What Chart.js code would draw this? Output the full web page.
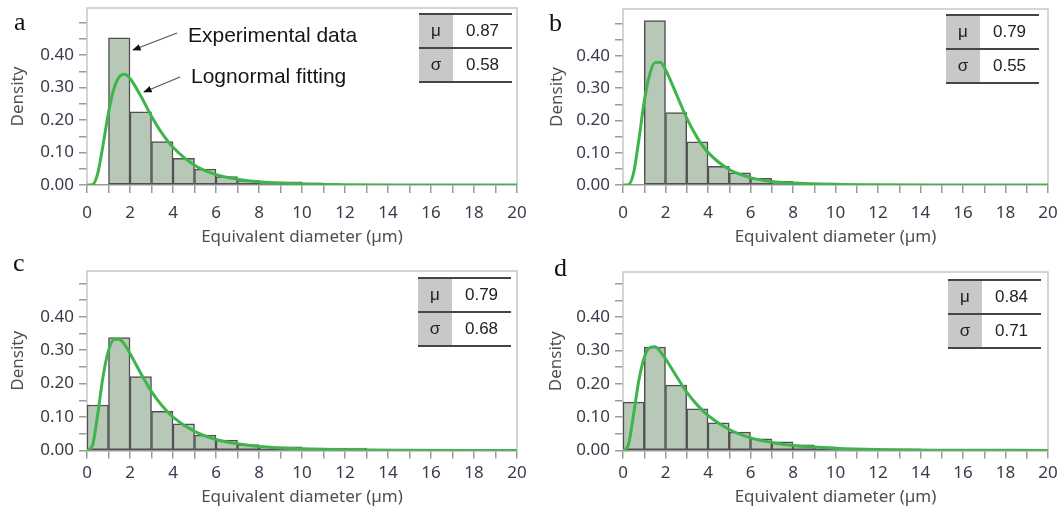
<!DOCTYPE html>
<html>
<head>
<meta charset="utf-8">
<script src="https://cdn.jsdelivr.net/npm/chart.js@4.4.1/dist/chart.umd.min.js"></script>
<style>
    body { margin: 0; background: #fff; }
    #page { position: relative; width: 1060px; height: 515px; overflow: hidden; }
    canvas { position: absolute; }
    .tag { position: absolute; font-family: 'Liberation Serif', serif; font-size: 26px; line-height: 26px; color: #111; }
    .note { position: absolute; font-family: 'Liberation Sans', Arial, sans-serif; font-size: 21px; line-height: 20px; color: #151515; white-space: nowrap; }
    .stats { position: absolute; width: 93px; border-top: 2px solid #454545; font-family: 'Liberation Sans', Arial, sans-serif; font-size: 17px; color: #222; }
    .stats .row { display: flex; height: 32px; border-bottom: 2px solid #454545; }
    .stats .k { width: 34px; background: #c8c8c8; text-align: center; line-height: 32px; }
    .stats .v { flex: 1; text-align: center; line-height: 32px; }
    svg { position: absolute; left: 0; top: 0; }
</style>
</head>
<body>
<div id="page">
    <canvas id="chartA" width="530" height="250" style="left:0;top:0"></canvas>
    <canvas id="chartB" width="530" height="250" style="left:530px;top:0"></canvas>
    <canvas id="chartC" width="530" height="265" style="left:0;top:250px"></canvas>
    <canvas id="chartD" width="530" height="265" style="left:530px;top:250px"></canvas>

    <div class="tag" style="left:14px;top:9px">a</div>
    <div class="tag" style="left:549px;top:10px">b</div>
    <div class="tag" style="left:13px;top:250px">c</div>
    <div class="tag" style="left:554px;top:255px">d</div>

    <div class="note" style="left:188px;top:25px">Experimental data</div>
    <div class="note" style="left:191px;top:66px">Lognormal fitting</div>
    <svg width="1060" height="515">
        <defs>
            <marker id="head" viewBox="0 0 10 10" refX="9" refY="5" markerWidth="7" markerHeight="7" orient="auto">
                <path d="M0,1 L10,5 L0,9 z" fill="#111"></path>
            </marker>
        </defs>
        <line x1="177" y1="33" x2="133" y2="50" stroke="#555" stroke-width="1.2" marker-end="url(#head)"></line>
        <line x1="180" y1="77" x2="144" y2="92" stroke="#555" stroke-width="1.2" marker-end="url(#head)"></line>
    </svg>

    <div id="statsA" class="stats" style="left:419px;top:13px"></div>
    <div id="statsB" class="stats" style="left:946px;top:14px"></div>
    <div id="statsC" class="stats" style="left:418px;top:277px"></div>
    <div id="statsD" class="stats" style="left:948px;top:279px"></div>
</div>

<script>
// Data
const xTickLabels = ['0', '2', '4', '6', '8', '10', '12', '14', '16', '18', '20'];
const yTickLabels = ['0.00', '0.10', '0.20', '0.30', '0.40'];

const binStartsA = [1, 2, 3, 4, 5, 6, 7, 8, 9, 10];
const densityA = [0.453, 0.225, 0.134, 0.082, 0.049, 0.026, 0.014, 0.010, 0.010, 0.007];

const binStartsB = [1, 2, 3, 4, 5, 6, 7, 8, 9];
const densityB = [0.509, 0.224, 0.134, 0.058, 0.038, 0.021, 0.011, 0.006, 0.006];

const binStartsC = [0, 1, 2, 3, 4, 5, 6, 7, 8, 9, 10, 11, 12];
const densityC = [0.136, 0.338, 0.221, 0.117, 0.080, 0.046, 0.031, 0.018, 0.011, 0.011, 0.007, 0.007, 0.007];

const binStartsD = [0, 1, 2, 3, 4, 5, 6, 7, 8, 9, 10, 11, 12, 13];
const densityD = [0.145, 0.310, 0.196, 0.125, 0.083, 0.055, 0.035, 0.026, 0.017, 0.011, 0.006, 0.005, 0.005, 0.005];

const fitX = [0, 0.25, 0.5, 0.75, 1, 1.25, 1.5, 1.75, 2, 2.5, 3, 3.5, 4, 5, 6, 7, 8, 10, 12, 15, 20];
const fitA = [0, 0.001, 0.036, 0.125, 0.223, 0.296, 0.333, 0.341, 0.328, 0.274, 0.212, 0.158, 0.116, 0.061, 0.032, 0.018, 0.010, 0.003, 0.001, 0.0003, 0];
const fitB = [0, 0.001, 0.038, 0.142, 0.259, 0.341, 0.379, 0.380, 0.357, 0.283, 0.207, 0.146, 0.101, 0.048, 0.023, 0.011, 0.006, 0.002, 0.0005, 0.0001, 0];
const fitC = [0, 0.014, 0.109, 0.223, 0.299, 0.332, 0.333, 0.317, 0.290, 0.231, 0.176, 0.133, 0.100, 0.057, 0.033, 0.020, 0.012, 0.005, 0.002, 0.0007, 0.0002];
const fitD = [0, 0.017, 0.109, 0.212, 0.279, 0.308, 0.311, 0.297, 0.275, 0.224, 0.175, 0.136, 0.105, 0.063, 0.038, 0.024, 0.015, 0.007, 0.003, 0.001, 0.0003];

const statLabels = ['μ', 'σ'];
const statsA = ['0.87', '0.58'];
const statsB = ['0.79', '0.55'];
const statsC = ['0.79', '0.68'];
const statsD = ['0.84', '0.71'];

const FONT = "'Noto Sans', 'Open Sans', sans-serif";
const TICK_COLOR = '#3a3a4a';
const AXIS_COLOR = '#9a9a9a';

// light grey box round the plot area (top, left, right)
const framePlugin = {
    id: 'frame',
    beforeDatasetsDraw(chart) {
        const { ctx, chartArea: { left, top, right, bottom } } = chart;
        ctx.save();
        ctx.strokeStyle = '#c6c6c6';
        ctx.lineWidth = 1.5;
        ctx.beginPath();
        ctx.moveTo(left, bottom);
        ctx.lineTo(left, top);
        ctx.lineTo(right, top);
        ctx.lineTo(right, bottom);
        ctx.stroke();
        ctx.restore();
    },
};

const fillStats = (id, values) => {
    const box = document.getElementById(id);
    box.innerHTML = statLabels
        .map((label, i) => `<div class="row"><div class="k">${label}</div><div class="v">${values[i]}</div></div>`)
        .join('');
};

const buildPanel = (id, geo, binStarts, density, fit) => {
    const bars = binStarts.map((start, i) => ({ x: start + 0.5, y: density[i] }));
    const curve = fitX.map((x, i) => ({ x, y: fit[i] }));

    // eslint-disable-next-line no-new
    new Chart(document.getElementById(id), {
        type: 'bar',
        data: {
            datasets: [
                {
                    type: 'line',
                    data: curve,
                    borderColor: '#3db54a',
                    borderWidth: 3,
                    pointRadius: 0,
                    cubicInterpolationMode: 'monotone',
                    fill: false,
                    order: 1,
                },
                {
                    data: bars,
                    backgroundColor: '#b7c9b6',
                    borderColor: '#505050',
                    borderWidth: 1.5,
                    borderSkipped: false,
                    barPercentage: 1,
                    categoryPercentage: 1,
                    order: 2,
                },
            ],
        },
        options: {
            responsive: false,
            animation: false,
            events: [],
            layout: { padding: { left: 0, top: geo.top, right: geo.width - geo.right, bottom: 0 } },
            plugins: { legend: { display: false }, tooltip: { enabled: false } },
            scales: {
                x: {
                    type: 'linear',
                    min: 0,
                    max: 20,
                    offset: false,
                    ticks: {
                        stepSize: 1,
                        autoSkip: false,
                        maxRotation: 0,
                        padding: geo.xTickPad,
                        color: TICK_COLOR,
                        font: { family: FONT, size: 17 },
                        callback: (value) => (value % 2 === 0 ? xTickLabels[value / 2] : ''),
                    },
                    grid: { drawOnChartArea: false, offset: false, tickLength: 8, color: AXIS_COLOR, lineWidth: 1.5 },
                    border: { color: AXIS_COLOR, width: 1.5 },
                    title: {
                        display: true,
                        text: 'Equivalent diameter (µm)',
                        color: '#4f4f4f',
                        font: { family: FONT, size: 17 },
                        padding: { top: 0, bottom: geo.xTitlePad },
                    },
                    afterFit: (scale) => {
                        scale.height = geo.height - geo.bottom;
                        scale.paddingLeft = 0;
                        scale.paddingRight = 0;
                    },
                },
                y: {
                    min: 0,
                    max: geo.yMax,
                    ticks: {
                        stepSize: 0.05,
                        includeBounds: false,
                        autoSkip: false,
                        padding: 5,
                        color: TICK_COLOR,
                        font: { family: FONT, size: 17 },
                        callback: (value) => {
                            const k = Math.round(value * 20);
                            return k % 2 === 0 ? (yTickLabels[k / 2] ?? '') : '';
                        },
                    },
                    grid: { drawOnChartArea: false, tickLength: 8, color: AXIS_COLOR, lineWidth: 1.5 },
                    border: { display: false },
                    title: {
                        display: true,
                        text: 'Density',
                        color: '#4f4f4f',
                        font: { family: FONT, size: 17 },
                        padding: { top: geo.yTitlePad, bottom: 0 },
                    },
                    afterFit: (scale) => {
                        scale.width = geo.left;
                        scale.paddingTop = 0;
                        scale.paddingBottom = 0;
                    },
                },
            },
        },
        plugins: [framePlugin],
    });
};

buildPanel('chartA', { width: 530, height: 250, left: 87, right: 517, top: 8, bottom: 185, yMax: 0.545, xTickPad: 10, xTitlePad: 3, yTitlePad: 8 }, binStartsA, densityA, fitA);
buildPanel('chartB', { width: 530, height: 250, left: 93, right: 518, top: 9, bottom: 185, yMax: 0.545, xTickPad: 10, xTitlePad: 3, yTitlePad: 17 }, binStartsB, densityB, fitB);
buildPanel('chartC', { width: 530, height: 265, left: 87, right: 517, top: 21, bottom: 200.5, yMax: 0.537, xTickPad: 4, xTitlePad: 8, yTitlePad: 8 }, binStartsC, densityC, fitC);
buildPanel('chartD', { width: 530, height: 265, left: 93, right: 518, top: 22, bottom: 200.5, yMax: 0.535, xTickPad: 4, xTitlePad: 8, yTitlePad: 16 }, binStartsD, densityD, fitD);

fillStats('statsA', statsA);
fillStats('statsB', statsB);
fillStats('statsC', statsC);
fillStats('statsD', statsD);
</script>
</body>
</html>
